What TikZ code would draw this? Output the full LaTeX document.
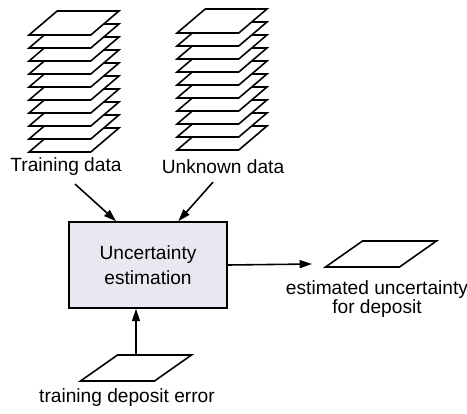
\documentclass[tikz,border=0pt]{standalone}
\usepackage{fontspec}
\setmainfont{Liberation Sans}
\usetikzlibrary{shapes.geometric, positioning, arrows.meta, calc}
\definecolor{boxfill}{RGB}{232,232,240}
\tikzset{
sheet/.style={trapezium, trapezium left angle=50, trapezium right angle=130, trapezium stretches=true, draw, fill=white, line width=0.9pt, minimum width=1.8cm, minimum height=0.48cm, inner sep=1pt},
bigsheet/.style={sheet, trapezium left angle=45, trapezium right angle=135, minimum width=2.22cm, minimum height=0.52cm},
txt/.style={font=\fontsize{10.9}{13}\selectfont, align=center, inner sep=1pt},
process/.style={txt, rectangle, draw, fill=boxfill, line width=0.9pt, minimum width=3.16cm, minimum height=1.72cm},
arr/.style={-{Triangle[length=7pt,width=4.5pt]}, line width=0.9pt}}
\begin{document}
\begin{tikzpicture}[x=0.02cm, y=-0.02cm]
\useasboundingbox (0,0) rectangle (467,413);
% data stacks, bottom sheet first
\foreach \i in {9,...,0} {
  \node [sheet] (tr\i) at (74, 23+13*\i) {};
  \node [sheet] (un\i) at (222, 21+13*\i) {};
}
\node [txt] (trtext) at (66,167) {Training data};
\node [txt] (untext) at (223,167) {Unknown data};
\node [process] (est) at (148,265) {Uncertainty\\[1pt]estimation};
\node [bigsheet] (out) at (381,254) {};
\node [txt] (outtext) at (377,299) {estimated uncertainty\\[-2.5pt]for deposit};
\node [bigsheet] (err) at (136,368) {};
\node [txt] (errtext) at (127,398) {training deposit error};
\coordinate (outtip) at (312,264);
\draw [arr] ($(trtext.south)+(9,6)$) -- ($(est.north west)!0.3!(est.north east)$);
\draw [arr] ($(untext.south)+(-10,6)$) -- ($(est.north west)!0.69!(est.north east)$);
\draw [arr] (est.east) -- (outtip);
\draw [arr] (err.north) -- (err.north |- est.south);
\end{tikzpicture}
\end{document}
